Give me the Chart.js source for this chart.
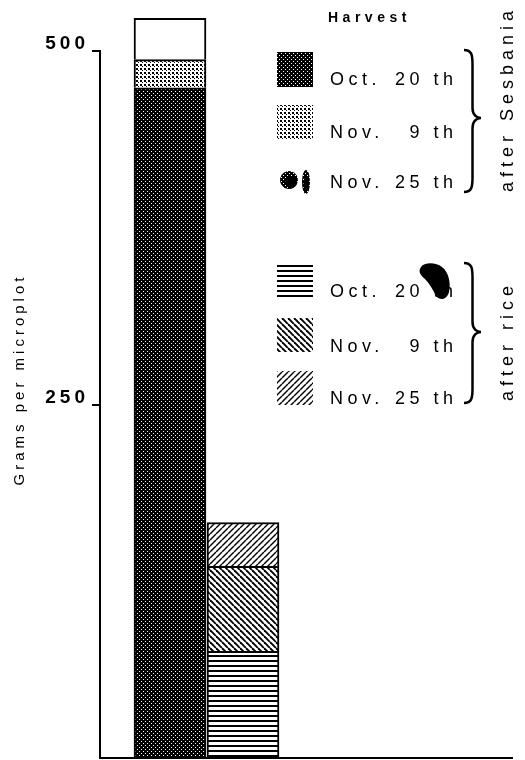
<!DOCTYPE html>
<html><head><meta charset="utf-8">
<script src="https://cdn.jsdelivr.net/npm/chart.js@4/dist/chart.umd.min.js"></script>
<style>html,body{margin:0;padding:0;background:#fff;}#wrap{width:525px;height:760px;position:relative;}canvas{display:block;}</style>
</head><body><div id="wrap"><canvas id="c" width="525" height="760"></canvas></div>
<script>
// ---- data ----
const crops = ['after Sesbania', 'after rice'];
const harvests = ['Oct. 20 th', 'Nov. 9 th', 'Nov. 25 th'];
const sesbaniaValues = [474, 20, 29];
const riceValues = [76, 60, 31];
const yTicks = [250, 500];
const yTitle = 'Grams per microplot';
const legendTitle = 'Harvest';

const FONT = '"Liberation Sans", Arial, Helvetica, sans-serif';

// ---- patterns ----
function makePattern(w, h, draw) {
  const c = document.createElement('canvas');
  c.width = w; c.height = h;
  const g = c.getContext('2d');
  draw(g, w, h);
  return document.getElementById('c').getContext('2d').createPattern(c, 'repeat');
}
const darkStipple = makePattern(4, 4, (g) => {
  g.fillStyle = '#000'; g.fillRect(0, 0, 4, 4);
  g.fillStyle = '#fff'; g.fillRect(1, 1, 1, 1); g.fillRect(3, 3, 1, 1);
});
const lightStipple = makePattern(4, 4, (g) => {
  g.fillStyle = '#fff'; g.fillRect(0, 0, 4, 4);
  g.fillStyle = '#000'; g.fillRect(0, 0, 2, 2); g.fillRect(2, 2, 1, 1);
});
const hLines = makePattern(8, 5, (g) => {
  g.fillStyle = '#fff'; g.fillRect(0, 0, 8, 5);
  g.fillStyle = '#000'; g.fillRect(0, 0, 8, 2);
});
function diag(dir, lw) {
  return makePattern(6, 6, (g) => {
    g.fillStyle = '#fff'; g.fillRect(0, 0, 6, 6);
    g.strokeStyle = '#000'; g.lineWidth = lw;
    for (const o of [-6, 0, 6]) {
      g.beginPath();
      if (dir > 0) { g.moveTo(o, 0); g.lineTo(o + 6, 6); }
      else { g.moveTo(o, 6); g.lineTo(o + 6, 0); }
      g.stroke();
    }
  });
}
const backDiag = diag(1, 1.9);
const fwdDiag = diag(-1, 1.4);

const sesbaniaFills = [darkStipple, lightStipple, '#ffffff'];
const riceFills = [hLines, backDiag, fwdDiag];

const datasets = harvests.map((h, i) => ({
  label: h,
  data: [{x: 0, y: sesbaniaValues[i]}, {x: 1, y: riceValues[i]}],
  backgroundColor: [sesbaniaFills[i], riceFills[i]],
  borderColor: '#000',
  borderWidth: 2,
  barThickness: 72
}));

function brace(ctx, x, y0, y1, ym, w) {
  const s = x + w * 0.5;
  ctx.beginPath();
  ctx.moveTo(x, y0);
  ctx.bezierCurveTo(x + w * 0.45, y0, s, y0 + 5, s, y0 + 14);
  ctx.lineTo(s, ym - 10);
  ctx.bezierCurveTo(s, ym - 3, x + w * 0.75, ym, x + w, ym);
  ctx.bezierCurveTo(x + w * 0.75, ym, s, ym + 3, s, ym + 10);
  ctx.lineTo(s, y1 - 14);
  ctx.bezierCurveTo(s, y1 - 5, x + w * 0.45, y1, x, y1);
  ctx.stroke();
}

const decor = {
  id: 'decor',
  beforeDraw(chart) { chart.ctx.letterSpacing = '4px'; },
  afterDraw(chart) {
    const ctx = chart.ctx;
    const ys = chart.scales.y, ca = chart.chartArea;
    ctx.save();
    ctx.strokeStyle = '#000'; ctx.fillStyle = '#000';
    // axis line and baseline
    ctx.lineWidth = 2;
    ctx.beginPath();
    ctx.moveTo(ca.left, ys.getPixelForValue(yTicks[yTicks.length - 1]) - 1);
    ctx.lineTo(ca.left, ys.getPixelForValue(0));
    ctx.stroke();
    ctx.beginPath();
    ctx.moveTo(ca.left - 1, ys.getPixelForValue(0) - 1);
    ctx.lineTo(ca.right, ys.getPixelForValue(0) - 1);
    ctx.stroke();

    // legend title
    ctx.letterSpacing = '4.5px';
    ctx.font = 'bold 14px ' + FONT;
    ctx.textAlign = 'left'; ctx.textBaseline = 'alphabetic';
    ctx.fillText(legendTitle, 328, 22);

    const groups = [
      {fills: sesbaniaFills, baselines: [85, 138, 188], sw: [[52, 35], [105, 34], null], brace: [50, 192, 118], label: crops[0], labelY: 192},
      {fills: riceFills, baselines: [297, 352, 404], sw: [[264, 33], [318, 34], [371, 34]], brace: [263, 403, 332], label: crops[1], labelY: 401}
    ];
    ctx.font = '18px ' + FONT;
    groups.forEach((g, gi) => {
      harvests.forEach((h, i) => {
        if (g.sw[i]) {
          ctx.fillStyle = g.fills[i];
          ctx.fillRect(277, g.sw[i][0], 36, g.sw[i][1]);
        } else {
          // irregular blot swatch
          ctx.fillStyle = darkStipple;
          ctx.beginPath(); ctx.ellipse(289, 180, 9, 9, 0.2, 0, Math.PI * 2); ctx.fill();
          ctx.beginPath(); ctx.ellipse(306, 182, 4, 12, 0, 0, Math.PI * 2); ctx.fill();
          ctx.fillStyle = '#000';
          ctx.beginPath(); ctx.ellipse(291, 182, 6, 6, 0, 0, Math.PI * 2); ctx.fill();
          ctx.beginPath(); ctx.ellipse(306, 184, 2.5, 8, 0, 0, Math.PI * 2); ctx.fill();
        }
        ctx.fillStyle = '#000';
        const sp = h.indexOf(' ');
        ctx.textAlign = 'left';
        ctx.fillText(h.slice(0, sp), 330, g.baselines[i]);
        ctx.textAlign = 'right';
        ctx.fillText(h.slice(sp + 1), 457.5, g.baselines[i]);
      });
      ctx.lineWidth = 2.5;
      brace(ctx, 464, g.brace[0], g.brace[1], g.brace[2], 17);
      ctx.save();
      ctx.letterSpacing = '5px';
      ctx.translate(513, g.labelY);
      ctx.rotate(-Math.PI / 2);
      ctx.textAlign = 'left';
      ctx.fillText(g.label, 0, 0);
      ctx.restore();
    });

    // ink blot over the rice legend
    ctx.fillStyle = '#000';
    ctx.beginPath();
    ctx.moveTo(421, 267);
    ctx.bezierCurveTo(424, 262, 436, 262, 442, 267);
    ctx.bezierCurveTo(449, 272, 451, 284, 449, 292);
    ctx.bezierCurveTo(447, 300, 440, 301, 436, 296);
    ctx.bezierCurveTo(433, 290, 430, 284, 425, 279);
    ctx.bezierCurveTo(420, 275, 418, 271, 421, 267);
    ctx.fill();
    ctx.restore();
  }
};

new Chart(document.getElementById('c'), {
  type: 'bar',
  data: {datasets},
  options: {
    responsive: false,
    animation: false,
    devicePixelRatio: 1,
    layout: {padding: {left: 0, right: 12, top: 0, bottom: 1}},
    plugins: {legend: {display: false}, tooltip: {enabled: false}},
    scales: {
      x: {type: 'linear', stacked: true, offset: false, min: -0.959, max: 4.699, display: false},
      y: {
        stacked: true, min: 0, max: 536,
        afterFit(s) { s.width = 100; s.paddingTop = 0; s.paddingBottom = 0; },
        afterBuildTicks(s) { s.ticks = yTicks.map(v => ({value: v})); },
        border: {display: false},
        grid: {drawOnChartArea: false, drawTicks: true, tickLength: 8, color: '#000', lineWidth: 2},
        ticks: {color: '#000', padding: 3, labelOffset: -7, font: {family: FONT, size: 19, weight: 'bold'}, callback: v => String(v)},
        title: {display: true, text: yTitle, color: '#000', font: {family: FONT, size: 15}, padding: {top: 11, bottom: 0}}
      }
    }
  },
  plugins: [decor]
});
</script></body></html>
